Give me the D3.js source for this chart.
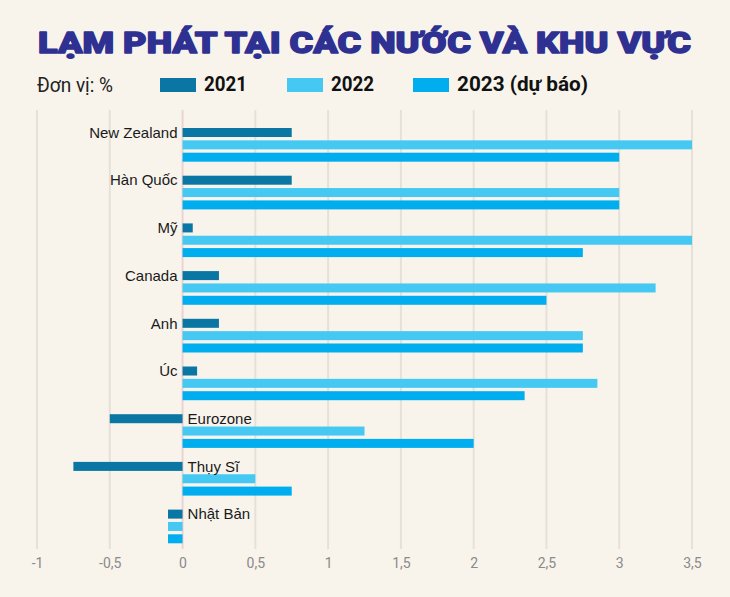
<!DOCTYPE html>
<html>
<head>
<meta charset="utf-8">
<script src="https://cdn.jsdelivr.net/npm/d3@7"></script>
<style>
  body { margin: 0; background: #f8f4ec; }
  svg { display: block; }
</style>
</head>
<body>
<div id="chart"></div>
<script>
// data (units: %)
const countries = ["New Zealand", "Hàn Quốc", "Mỹ", "Canada", "Anh", "Úc", "Eurozone", "Thụy Sĩ", "Nhật Bản"];
const seriesNames = ["2021", "2022", "2023 (dự báo)"];
const v2021 = [0.75, 0.75, 0.07, 0.25, 0.25, 0.1, -0.5, -0.75, -0.1];
const v2022 = [3.5, 3.0, 3.5, 3.25, 2.75, 2.85, 1.25, 0.5, -0.1];
const v2023 = [3.0, 3.0, 2.75, 2.5, 2.75, 2.35, 2.0, 0.75, -0.1];
const tickValues = [-1, -0.5, 0, 0.5, 1, 1.5, 2, 2.5, 3, 3.5];
const colors = ["#0a76a3", "#45c8f2", "#00aeef"];

const width = 730, height = 597;

const svg = d3.select("#chart")
    .append("svg")
    .attr("width", width)
    .attr("height", height);

svg.append("rect").attr("width", width).attr("height", height).attr("fill", "#f8f4ec");

// title
svg.append("text")
    .attr("x", 38)
    .attr("y", 53)
    .attr("textLength", 653)
    .attr("lengthAdjust", "spacingAndGlyphs")
    .style("font-family", "Roboto, 'DejaVu Sans', sans-serif")
    .style("font-weight", 900)
    .style("font-size", "30px")
    .style("fill", "#2e3192")
    .style("stroke", "#2e3192")
    .style("stroke-width", 1.4)
    .style("stroke-linejoin", "round")
    .text("LẠM PHÁT TẠI CÁC NƯỚC VÀ KHU VỰC");

// legend
svg.append("text")
    .attr("x", 37)
    .attr("y", 92)
    .attr("textLength", 76)
    .attr("lengthAdjust", "spacingAndGlyphs")
    .style("font-family", "Roboto, sans-serif")
    .style("font-size", "21px")
    .style("fill", "#222")
    .text("Đơn vị: %");

const legendX = [160, 287, 413];
const legendW = [43, 43, 131];
const legend = svg.append("g").attr("class", "legend")
    .selectAll("g")
    .data(seriesNames)
    .enter().append("g")
    .attr("transform", (d, i) => `translate(${legendX[i]}, 78)`);

legend.append("rect")
    .attr("width", 36)
    .attr("height", 14)
    .attr("fill", (d, i) => colors[i]);

legend.append("text")
    .attr("x", 44)
    .attr("y", 13)
    .attr("textLength", (d, i) => legendW[i])
    .attr("lengthAdjust", "spacingAndGlyphs")
    .style("font-family", "Roboto, sans-serif")
    .style("font-weight", 700)
    .style("font-size", "20px")
    .style("fill", "#111")
    .text(d => d);

// scales
const x = d3.scaleLinear()
    .domain([-1, 3.5])
    .range([37, 692]);

const y0 = d3.scaleBand()
    .domain(countries)
    .range([128, 128 + 47.7 * countries.length]);

const y1 = d3.scaleBand()
    .domain(seriesNames)
    .range([0, 33.7])
    .paddingInner(0.27);

// grid
const grid = svg.append("g").attr("class", "grid");
grid.selectAll("line")
    .data(tickValues)
    .enter().append("line")
    .attr("x1", d => x(d))
    .attr("x2", d => x(d))
    .attr("y1", 110)
    .attr("y2", 549)
    .style("stroke", d => d === 0 ? "#ecd3d3" : "#e6e1d8")
    .style("stroke-width", 2);

// x axis labels
const axis = svg.append("g")
    .attr("transform", "translate(0, 549)")
    .call(d3.axisBottom(x)
        .tickValues(tickValues)
        .tickSize(0)
        .tickPadding(9)
        .tickFormat(d => String(d).replace(".", ",")));
axis.select(".domain").remove();
axis.selectAll("text")
    .style("font-family", "Roboto, sans-serif")
    .style("font-size", "14px")
    .style("fill", "#8a8a8a");

// bars
const rows = countries.map((c, i) => ({
    country: c,
    values: [v2021[i], v2022[i], v2023[i]]
}));

const groups = svg.append("g").attr("class", "bars")
    .selectAll("g")
    .data(rows)
    .enter().append("g")
    .attr("transform", d => `translate(0, ${y0(d.country)})`);

groups.selectAll("rect")
    .data(d => d.values.map((v, i) => ({ key: seriesNames[i], value: v, i: i })))
    .enter().append("rect")
    .attr("x", d => x(Math.min(0, d.value)))
    .attr("width", d => Math.abs(x(d.value) - x(0)))
    .attr("y", d => y1(d.key))
    .attr("height", y1.bandwidth())
    .attr("fill", d => colors[d.i]);

// country labels: left of zero for positive rows, right of zero when 2021 is negative
groups.append("text")
    .attr("x", d => d.values[0] < 0 ? x(0) + 5 : x(0) - 5)
    .attr("y", y1(seriesNames[0]) + y1.bandwidth() / 2)
    .attr("dy", "0.35em")
    .attr("text-anchor", d => d.values[0] < 0 ? "start" : "end")
    .style("font-family", "'Liberation Sans', Arial, sans-serif")
    .style("font-size", "15px")
    .style("fill", "#1a1a1a")
    .text(d => d.country);
</script>
</body>
</html>
